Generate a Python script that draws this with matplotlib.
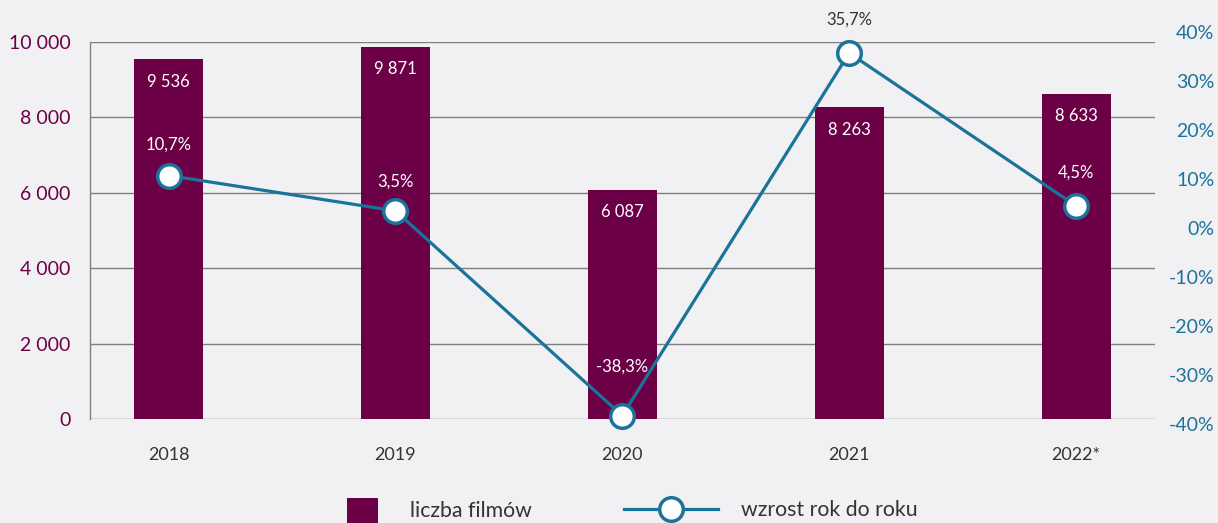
import matplotlib.pyplot as plt
from matplotlib.lines import Line2D
from matplotlib.patches import Patch

years = ["2018", "2019", "2020", "2021", "2022*"]
films = [9536, 9871, 6087, 8263, 8633]
growth = [10.7, 3.5, -38.3, 35.7, 4.5]
film_labels = ["9 536", "9 871", "6 087", "8 263", "8 633"]
growth_labels = ["10,7%", "3,5%", "-38,3%", "35,7%", "4,5%"]
left_ticks = [0, 2000, 4000, 6000, 8000, 10000]
left_tick_labels = ["0", "2 000", "4 000", "6 000", "8 000", "10 000"]
right_ticks = [-40, -30, -20, -10, 0, 10, 20, 30, 40]
right_tick_labels = ["-40%", "-30%", "-20%", "-10%", "0%", "10%", "20%", "30%", "40%"]

BG = "#F1F1F4"
PURPLE = "#6C0047"
TEAL = "#1C7399"
GRID = "#7F7F7F"
DARK = "#333333"

plt.rcParams["font.family"] = ["Lato", "DejaVu Sans"]

fig = plt.figure(figsize=(12.18, 5.23), dpi=100, facecolor=BG)
ax = fig.add_axes([0.0739, 0.1989, 0.8740, 0.7208], facecolor=BG)
ax2 = fig.add_axes([0.0739, 0.1894, 0.8740, 0.7495], facecolor="none")

x = list(range(len(years)))
xlim = (-0.346, 4.346)

# bars: number of films
ax.bar(x, films, width=0.304, color=PURPLE, zorder=2)
ax.set_xlim(*xlim)
ax.set_ylim(0, 10000)
ax.set_yticks(left_ticks)
ax.set_yticklabels(left_tick_labels)
ax.set_xticks(x)
ax.set_xticklabels(years)
ax.yaxis.grid(True, color=GRID, linewidth=1.0, zorder=0)
ax.set_axisbelow(True)
for s in ["top", "right", "bottom"]:
    ax.spines[s].set_visible(False)
ax.spines["left"].set_color(GRID)
ax.spines["left"].set_linewidth(1.0)
ax.tick_params(axis="y", length=0, pad=14, labelsize=14, labelcolor=PURPLE)
ax.tick_params(axis="x", length=0, pad=20, labelsize=13, labelcolor=DARK)

for xi, v, lbl in zip(x, films, film_labels):
    ax.annotate(lbl, (xi, v), xytext=(0, -16), textcoords="offset points",
                ha="center", va="center", color="white", fontsize=12, zorder=3)

# line: year-over-year growth
ax2.plot(x, growth, color=TEAL, linewidth=2.3, marker="o", markersize=17,
         markerfacecolor="white", markeredgecolor=TEAL, markeredgewidth=2.5,
         zorder=4, clip_on=False)
ax2.set_xlim(*xlim)
ax2.set_ylim(-40, 40)
ax2.set_yticks(right_ticks)
ax2.set_yticklabels(right_tick_labels)
ax2.yaxis.tick_right()
ax2.set_xticks([])
for s in ax2.spines.values():
    s.set_visible(False)
ax2.tick_params(axis="y", length=0, pad=43, labelsize=14, labelcolor=TEAL)
for t in ax2.get_yticklabels():
    t.set_ha("right")

offsets = [22, 21, 35, 24, 24]
colors = ["white", "white", "white", DARK, "white"]
for xi, v, lbl, off, c in zip(x, growth, growth_labels, offsets, colors):
    ax2.annotate(lbl, (xi, v), xytext=(0, off), textcoords="offset points",
                 ha="center", va="center", color=c, fontsize=12, zorder=5)

# legend, one entry per box so each handle keeps its own length
leg_y = 0.024
leg_fs = 15.3
fig.legend([Patch(facecolor=PURPLE, edgecolor="none")], ["liczba filmów"],
           loc="center left", bbox_to_anchor=(347 / 1218, leg_y), frameon=False,
           fontsize=leg_fs, handlelength=1.46, handleheight=1.46, handletextpad=1.5,
           borderpad=0, borderaxespad=0, labelcolor=DARK)
fig.legend([Line2D([0], [0], color=TEAL, linewidth=2.3, marker="o", markersize=17,
                   markerfacecolor="white", markeredgecolor=TEAL,
                   markeredgewidth=2.5)],
           ["wzrost rok do roku"], loc="center left",
           bbox_to_anchor=(624 / 1218, leg_y), frameon=False, fontsize=leg_fs,
           handlelength=4.44, handletextpad=1.05, borderpad=0, borderaxespad=0,
           labelcolor=DARK)

fig.savefig("out.png", dpi=100, facecolor=BG)
